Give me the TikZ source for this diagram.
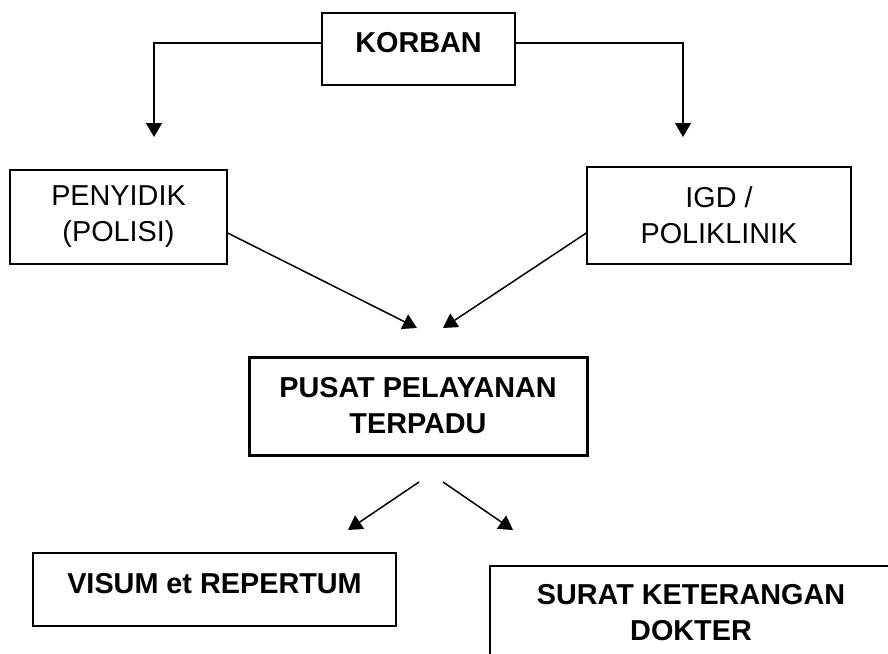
\documentclass[tikz,border=0pt]{standalone}
\usepackage{fontspec}
\setmainfont{Liberation Sans}
\usepackage{tikz}
\usetikzlibrary{positioning,arrows.meta}

\begin{document}
\begin{tikzpicture}[
x=1pt, y=1pt,
box/.style={rectangle, draw=black, line width=0.7pt, inner sep=0pt, align=center, font=\fontsize{14.4}{18}\selectfont},
thickbox/.style={box, line width=1.5pt},
>={Triangle[width=8pt,length=7pt]},
link/.style={line width=0.75pt}
]
\useasboundingbox (0,0) rectangle (444,-326.5);

\node[box, minimum width=96.5pt, minimum height=36pt, text depth=7pt](korban) at (209.25,-24.5){\textbf{KORBAN}};

\node[box, minimum width=108.5pt, minimum height=47pt](penyidik)[below of = korban, node distance=84pt, xshift=-150pt]{PENYIDIK\\(POLISI)};
\node[box, minimum width=132pt, minimum height=48.5pt](igd)[below of = korban, node distance=83.25pt, xshift=150.25pt]{IGD /\\POLIKLINIK};

\node[thickbox, minimum width=169pt, minimum height=49pt](pusat)[below of = korban, node distance=178.5pt, xshift=-0.25pt]{\textbf{PUSAT PELAYANAN}\\\textbf{TERPADU}};

\node[box, minimum width=181.5pt, minimum height=36.5pt, text depth=6.5pt](visum)[below of = pusat, node distance=91.75pt, xshift=-101.75pt]{\textbf{VISUM et REPERTUM}};
\node[box, minimum width=201pt, minimum height=47pt](surat)[below of = pusat, node distance=103.5pt, xshift=136.5pt]{\textbf{SURAT KETERANGAN}\\\textbf{DOKTER}};

\coordinate (korban_l) at (77,-68.5);
\coordinate (korban_r) at (341.5,-68.5);
\coordinate (pusat_in_l) at (208.5,-164);
\coordinate (pusat_in_r) at (221.5,-164);
\coordinate (pusat_out_l) at (209.5,-241);
\coordinate (pusat_out_r) at (221.5,-241);
\coordinate (visum_in) at (174,-265);
\coordinate (surat_in) at (256.5,-265);

\draw[link, ->] ([yshift=3pt]korban.west) -| (korban_l);
\draw[link, ->] ([yshift=3pt]korban.east) -| (korban_r);

\draw[link, ->] ([yshift=-8pt]penyidik.east) -- (pusat_in_l);
\draw[link, ->] ([yshift=-8.75pt]igd.west) -- (pusat_in_r);

\draw[link, ->] (pusat_out_l) -- (visum_in);
\draw[link, ->] (pusat_out_r) -- (surat_in);

\end{tikzpicture}
\end{document}
